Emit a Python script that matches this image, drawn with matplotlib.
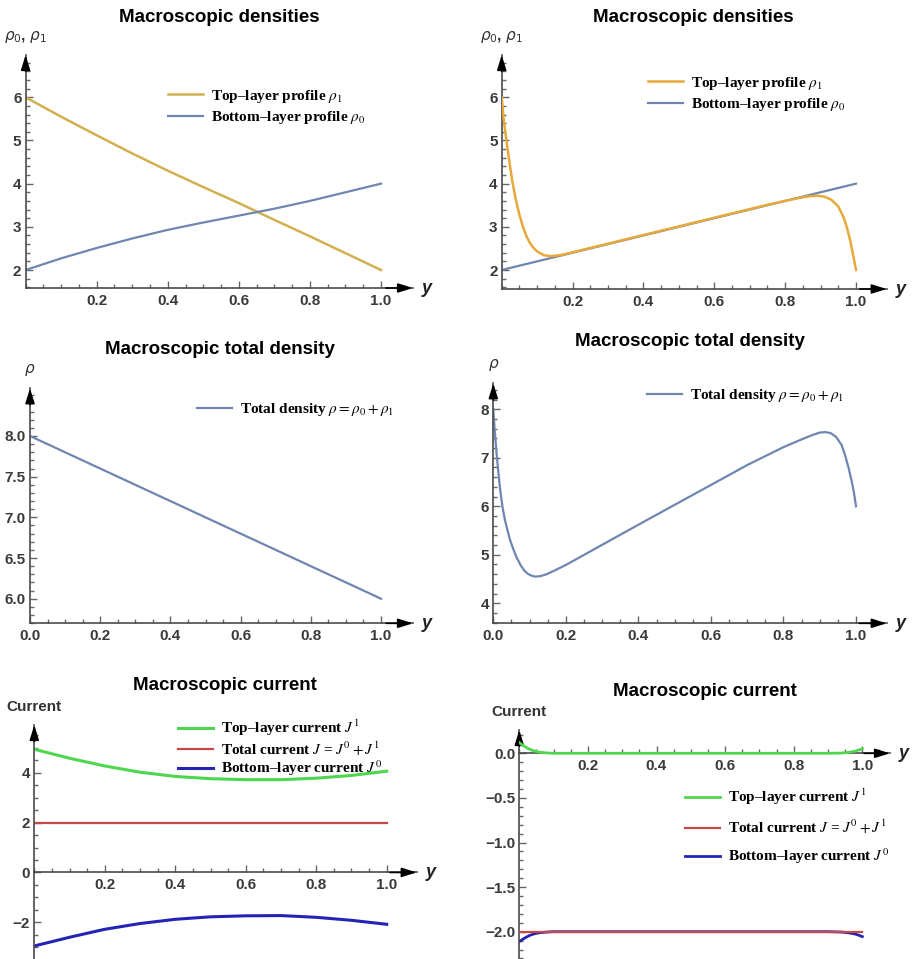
import numpy as np
import matplotlib
matplotlib.use("Agg")
import matplotlib.pyplot as plt
from matplotlib.ticker import FixedLocator, MultipleLocator, FuncFormatter
from matplotlib.font_manager import FontProperties

W, H = 913, 959

# ---- values ----
# (a) densities, left column
Y_A = [0.0, 0.1, 0.2, 0.3, 0.4, 0.5, 0.6, 0.7, 0.8, 0.9, 1.0]
RHO1_A = [6.0, 5.55, 5.12, 4.70, 4.30, 3.92, 3.55, 3.16, 2.78, 2.39, 2.0]
RHO0_A = [2.0, 2.27, 2.51, 2.73, 2.93, 3.10, 3.26, 3.42, 3.60, 3.80, 4.0]
Y_TOT_A = [0.0, 1.0]
RHO_A = [8.0, 6.0]

# (b) densities, right column (boundary layers)
Y_RHO0_B = [0.0, 1.0]
RHO0_B = [2.0, 4.0]
Y_RHO1_B = [0.0, 0.005, 0.01, 0.015, 0.02, 0.03, 0.04, 0.05, 0.06, 0.07, 0.08,
            0.09, 0.10, 0.12, 0.14, 0.17, 0.2, 0.4, 0.6, 0.75, 0.8, 0.84, 0.87,
            0.89, 0.91, 0.93, 0.95, 0.965, 0.975, 0.985, 0.993, 1.0]
RHO1_B = [6.0, 5.55, 5.2, 4.9, 4.6, 4.05, 3.62, 3.28, 3.0, 2.78, 2.62,
          2.51, 2.43, 2.34, 2.32, 2.35, 2.41, 2.81, 3.21, 3.51, 3.60, 3.67, 3.71,
          3.72, 3.70, 3.63, 3.47, 3.22, 2.97, 2.63, 2.3, 2.0]
Y_TOT_B = [0.0, 0.004, 0.009, 0.014, 0.018, 0.025, 0.032, 0.04, 0.046, 0.055,
           0.064, 0.075, 0.085, 0.095, 0.105, 0.115, 0.13, 0.147, 0.17, 0.2,
           0.4, 0.6, 0.7, 0.8, 0.85, 0.88, 0.9, 0.915, 0.93, 0.945, 0.96, 0.97,
           0.98, 0.99, 0.995, 1.0]
RHO_B = [8.0, 7.55, 7.09, 6.7, 6.40, 6.0, 5.72, 5.48, 5.31, 5.12,
         4.95, 4.79, 4.68, 4.61, 4.57, 4.55, 4.56, 4.60, 4.68, 4.79,
         5.62, 6.44, 6.85, 7.22, 7.38, 7.47, 7.52, 7.53, 7.51, 7.43, 7.27, 7.05,
         6.78, 6.45, 6.25, 6.0]

# (c) currents, left column
Y_C = [0.0, 0.1, 0.2, 0.3, 0.4, 0.5, 0.6, 0.7, 0.8, 0.9, 1.0]
J1_C = [4.94, 4.58, 4.27, 4.02, 3.85, 3.76, 3.72, 3.72, 3.78, 3.89, 4.06]
J0_C = [-2.95, -2.60, -2.28, -2.05, -1.88, -1.78, -1.74, -1.73, -1.80, -1.92, -2.08]
Y_J_C = [0.0, 1.0]
J_C = [2.0, 2.0]

# (d) currents, right column
Y_D = [0.0, 0.01, 0.02, 0.03, 0.04, 0.05, 0.06, 0.08, 0.1, 0.9, 0.94, 0.96,
       0.98, 0.99, 1.0]
J1_D = [0.12, 0.09, 0.067, 0.045, 0.03, 0.02, 0.012, 0.004, 0.0, 0.0, 0.003,
        0.01, 0.025, 0.038, 0.05]
J0_D = [-2.11, -2.085, -2.062, -2.042, -2.028, -2.018, -2.011, -2.004, -2.0,
        -2.0, -2.004, -2.012, -2.027, -2.04, -2.055]
Y_J_D = [0.0, 1.0]
J_D = [-2.0, -2.0]

GOLD_A, GOLD_B = "#d2b050", "#e6a93a"
STEEL = "#6f86b0"
GREEN, RED, BLUE = "#4fd64f", "#c84848", "#2323b4"
AXC = "#4a4a4a"
TICKC = "#3a3a3a"

LEG_FP = FontProperties(family="Liberation Serif", weight="bold", size=11,
                        math_fontfamily="stix")

fig = plt.figure(figsize=(W / 100, H / 100), dpi=100)


def fx(px):
    return px / W


def fy(py):
    return 1 - py / H


def panel(box, xcal, ycal, xticks, yticks, yminor, yfmt, xaxis_at=None):
    left, right, top, bottom = box
    sx = (xcal[1] - xcal[0])
    (v1, p1), (v2, p2) = ycal
    sy = (p2 - p1) / (v1 - v2)          # px per unit
    xlim = ((left - xcal[0]) / sx, (right - xcal[0]) / sx)
    ylim = (v1 - (bottom - p1) / sy, v1 + (p1 - top) / sy)
    ax = fig.add_axes([fx(left), fy(bottom), (right - left) / W, (bottom - top) / H])
    ax.set_xlim(xlim); ax.set_ylim(ylim)
    for s in ("top", "right"):
        ax.spines[s].set_visible(False)
    for s in ("left", "bottom"):
        ax.spines[s].set_color(AXC); ax.spines[s].set_linewidth(1.2)
    yax = ylim[0] if xaxis_at is None else xaxis_at
    if xaxis_at is not None:
        ax.spines["bottom"].set_position(("data", xaxis_at))
    ax.xaxis.set_major_locator(FixedLocator(xticks))
    ax.xaxis.set_minor_locator(MultipleLocator(0.05))
    ax.yaxis.set_major_locator(FixedLocator(yticks))
    ax.yaxis.set_minor_locator(MultipleLocator(yminor))
    ax.xaxis.set_major_formatter(FuncFormatter(lambda v, p: "%.1f" % v))
    ax.yaxis.set_major_formatter(FuncFormatter(lambda v, p: (yfmt % v).replace("-", "\u2212")))
    ax.tick_params(which="both", direction="in", color="#666666", width=1.0)
    ax.tick_params(which="major", length=5)
    ax.tick_params(which="minor", length=3)
    ax.tick_params(axis="x", pad=4)
    ax.tick_params(axis="y", pad=3)
    for lab in ax.get_xticklabels() + ax.get_yticklabels():
        lab.set_fontfamily("Liberation Sans"); lab.set_fontweight("bold")
        lab.set_fontsize(11); lab.set_color(TICKC)
    # arrow heads
    ax.annotate("", xy=(1, yax), xytext=(0.93, yax), xycoords=ax.get_yaxis_transform(),
                arrowprops=dict(arrowstyle="-|>,head_length=0.9,head_width=0.28",
                                color="black", lw=1.2, shrinkA=0, shrinkB=0))
    ax.annotate("", xy=(xlim[0], 1), xytext=(xlim[0], 0.93), xycoords=ax.get_xaxis_transform(),
                arrowprops=dict(arrowstyle="-|>,head_length=0.9,head_width=0.28",
                                color="black", lw=1.2, shrinkA=0, shrinkB=0))
    ax.annotate("y", xy=(1, yax), xycoords=ax.get_yaxis_transform(), xytext=(9, 0),
                textcoords="offset pixels", ha="left", va="center", style="italic",
                weight="bold", fontsize=13, family="Liberation Sans", color="#222222")
    return ax


def ylab(ax, text):
    ax.annotate(text, xy=(ax.get_xlim()[0], 1), xycoords=ax.get_xaxis_transform(),
                xytext=(0, 18), textcoords="offset pixels", ha="center", va="center",
                fontsize=11, family="Liberation Sans", weight="bold", color="#333333",
                math_fontfamily="dejavusans")


def title(cx, cy, text):
    fig.text(fx(cx), fy(cy), text, ha="center", va="center", fontsize=13.5,
             weight="bold", family="Liberation Sans")


def legend(ax, x, y, spacing, order=None):
    h, l = ax.get_legend_handles_labels()
    if order is not None:
        h = [h[i] for i in order]; l = [l[i] for i in order]
    ax.legend(h, l, loc="center left", bbox_to_anchor=(fx(x), fy(y)),
              bbox_transform=fig.transFigure, frameon=False, prop=LEG_FP,
              borderpad=0, borderaxespad=0, handlelength=2.3, handletextpad=0.5,
              labelspacing=spacing)


# (a) top-left
ax = panel((25.6, 413, 55, 288), (25.6, 381), ((6, 97.3), (2, 270)),
           [0.2, 0.4, 0.6, 0.8, 1.0], [2, 3, 4, 5, 6], 0.2, "%d")
ax.plot(Y_A, RHO1_A, color=GOLD_A, lw=1.8, label="Top\u2013layer profile $\\rho_1$")
ax.plot(Y_A, RHO0_A, color=STEEL, lw=1.6, label="Bottom\u2013layer profile $\\rho_0$")
legend(ax, 168, 107, 0.3)
ylab(ax, r"$\rho_0$, $\rho_1$")
title(219, 17, "Macroscopic densities")

# (b) top-right
ax = panel((501.7, 886.7, 55, 289), (501.7, 856), ((6, 97.3), (2, 270)),
           [0.2, 0.4, 0.6, 0.8, 1.0], [2, 3, 4, 5, 6], 0.2, "%d")
ax.plot(Y_RHO1_B, RHO1_B, color=GOLD_B, lw=1.8, label="Top\u2013layer profile $\\rho_1$", zorder=3)
ax.plot(Y_RHO0_B, RHO0_B, color=STEEL, lw=1.6, label="Bottom\u2013layer profile $\\rho_0$", zorder=2)
legend(ax, 648, 94, 0.3)
ylab(ax, r"$\rho_0$, $\rho_1$")
title(693, 17, "Macroscopic densities")

# (c) middle-left
ax = panel((30, 413, 388.3, 623.3), (30, 381), ((8, 436), (6, 598.7)),
           [0.0, 0.2, 0.4, 0.6, 0.8, 1.0], [6.0, 6.5, 7.0, 7.5, 8.0], 0.1, "%.1f")
ax.plot(Y_TOT_A, RHO_A, color=STEEL, lw=1.6, label=r"Total density $\rho = \rho_0 + \rho_1$")
legend(ax, 197, 410, 0.3)
ylab(ax, r"$\rho$")
title(220, 350, "Macroscopic total density")

# (d) middle-right
ax = panel((493.3, 886.7, 383.3, 623.3), (493.3, 856), ((8, 409.3), (4, 603.3)),
           [0.0, 0.2, 0.4, 0.6, 0.8, 1.0], [4, 5, 6, 7, 8], 0.2, "%d")
ax.plot(Y_TOT_B, RHO_B, color=STEEL, lw=1.6, label=r"Total density $\rho = \rho_0 + \rho_1$")
legend(ax, 647, 396, 0.3)
ylab(ax, r"$\rho$")
title(690, 342, "Macroscopic total density")

# (e) bottom-left
ax = panel((34.3, 416.7, 725, 959), (34.3, 386.7), ((4, 772.7), (-2, 922.3)),
           [0.2, 0.4, 0.6, 0.8, 1.0], [-2, 0, 2, 4], 0.5, "%d", xaxis_at=0)
ax.plot(Y_C, J1_C, color=GREEN, lw=2.2, label="Top\u2013layer current $J^1$")
ax.plot(Y_J_C, J_C, color=RED, lw=1.6, label="Total current $J$ = $J^0 + J^1$")
ax.plot(Y_C, J0_C, color=BLUE, lw=2.2, label="Bottom\u2013layer current $J^0$")
legend(ax, 178, 748, 0.05)
ylab(ax, "Current")
title(225, 686, "Macroscopic current")

# (f) bottom-right
ax = panel((519.3, 890, 730, 959), (519.3, 862.3), ((0, 753.3), (-2, 931.7)),
           [0.2, 0.4, 0.6, 0.8, 1.0], [-2.0, -1.5, -1.0, -0.5, 0.0], 0.1, "%.1f", xaxis_at=0)
ax.plot(Y_D, J1_D, color=GREEN, lw=2.0, label="Top\u2013layer current $J^1$", zorder=3)
ax.plot(Y_D, J0_D, color=BLUE, lw=2.0, label="Bottom\u2013layer current $J^0$", zorder=2)
ax.plot(Y_J_D, J_D, color=RED, lw=1.6, label="Total current $J$ = $J^0 + J^1$", zorder=4)
legend(ax, 685, 826.5, 0.7, order=[0, 2, 1])
ylab(ax, "Current")
title(705, 691, "Macroscopic current")

fig.savefig("out.png", dpi=100)
